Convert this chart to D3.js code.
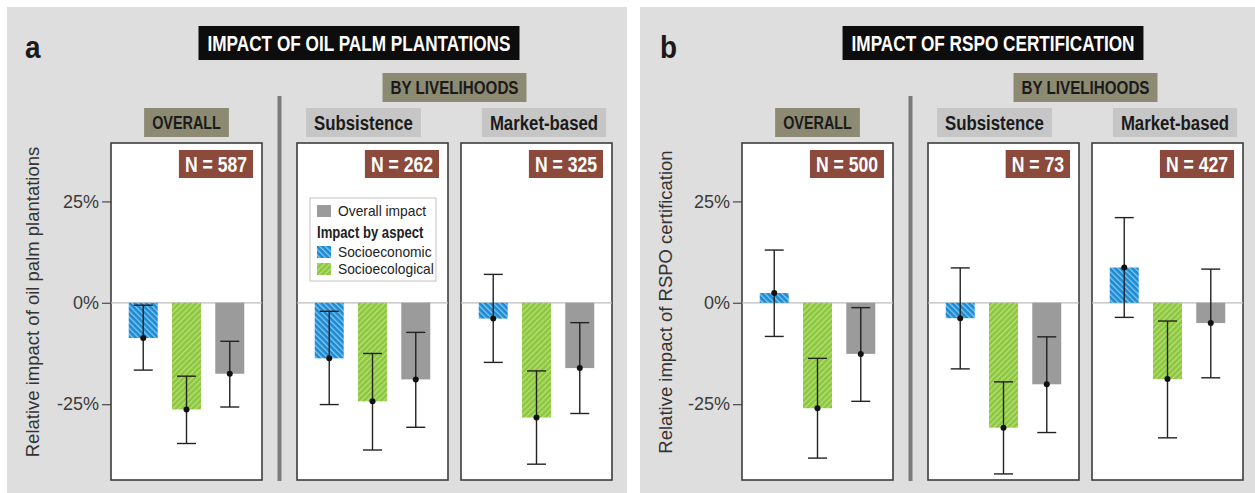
<!DOCTYPE html>
<html>
<head>
<meta charset="utf-8">
<script src="https://cdn.jsdelivr.net/npm/d3@7"></script>
<style>
  body { margin: 0; background: #fff; }
  svg { display: block; }
</style>
</head>
<body>
<div id="chart"></div>
<script>
// data (percent)
var panelLetters = ["a", "b"];
var panelTitles = ["IMPACT OF OIL PALM PLANTATIONS", "IMPACT OF RSPO CERTIFICATION"];
var yLabels = ["Relative impact of oil palm plantations", "Relative impact of RSPO certification"];
var facets = ["OVERALL", "Subsistence", "Market-based"];
var aspects = ["Socioeconomic", "Socioecological", "Overall impact"];
var yTicks = [-25, 0, 25];
var sampleSizes = [[587, 262, 325], [500, 73, 427]];

// rows = facet, columns = aspect
var estimatesA = [[-8.7, -26.3, -17.5], [-13.7, -24.3, -18.9], [-3.9, -28.3, -16.1]];
var upperA = [[-0.6, -18.1, -9.5], [-2.1, -12.5, -7.3], [7.0, -16.8, -4.9]];
var lowerA = [[-16.6, -34.7, -25.7], [-25.1, -36.3, -30.7], [-14.7, -39.8, -27.3]];

var estimatesB = [[2.4, -26.0, -12.6], [-3.8, -30.8, -20.1], [8.7, -18.8, -5.0]];
var upperB = [[13.0, -13.7, -1.2], [8.6, -19.5, -8.4], [21.0, -4.5, 8.3]];
var lowerB = [[-8.3, -38.3, -24.3], [-16.3, -42.2, -32.0], [-3.6, -33.3, -18.5]];

var estimates = [estimatesA, estimatesB],
    uppers = [upperA, upperB],
    lowers = [lowerA, lowerB];

var W = 1255, H = 493;
var SANS = "'Liberation Sans', Arial, sans-serif";
var SQUEEZE = 0.8;   // fake a condensed bold face

var svg = d3.select("#chart").append("svg")
    .attr("width", W)
    .attr("height", H);

var defs = svg.append("defs");
function hatch(id, base, stripe, angle) {
    var p = defs.append("pattern")
        .attr("id", id)
        .attr("patternUnits", "userSpaceOnUse")
        .attr("width", 4)
        .attr("height", 4)
        .attr("patternTransform", "rotate(" + angle + ")");
    p.append("rect").attr("width", 4).attr("height", 4).attr("fill", base);
    p.append("rect").attr("width", 1.3).attr("height", 4).attr("fill", stripe);
}
hatch("hatchBlue", "#1b8ad2", "#86c8f0", -45);
hatch("hatchGreen", "#8cc63e", "#b7e07a", 45);
var aspectFill = ["url(#hatchBlue)", "url(#hatchGreen)", "#9b9b9b"];

var boxTop = 143, boxBottom = 480, boxW = 151;
var facetLeft = [111, 297, 461];
var headerShift = [0, -9, 7.5];
var panelShift = [0, 631];

var y = d3.scaleLinear()
    .domain([-43.7, 39.4])
    .range([boxBottom, boxTop]);

var x = d3.scaleBand()
    .domain(aspects)
    .range([0, boxW])
    .paddingInner(0.33)
    .paddingOuter(0.41);

// condensed bold text with a filled box behind it
function tag(g, cx, cy, text, fill, color, size, padX, h, anchor) {
    anchor = anchor || "middle";
    var t = g.append("text")
        .attr("transform", "translate(" + cx + "," + cy + ") scale(" + SQUEEZE + ",1)")
        .attr("text-anchor", anchor)
        .attr("dominant-baseline", "central")
        .attr("font-family", SANS)
        .attr("font-weight", "bold")
        .attr("font-size", size)
        .attr("fill", color)
        .text(text);
    var bb = t.node().getBBox();
    var w = bb.width * SQUEEZE;
    var left = anchor == "middle" ? cx - w / 2 : (anchor == "end" ? cx - w : cx);
    g.insert("rect", function() { return t.node(); })
        .attr("x", left - padX)
        .attr("y", cy - h / 2)
        .attr("width", w + 2 * padX)
        .attr("height", h)
        .attr("fill", fill);
}

function drawPanel(p) {
    var g = svg.append("g").attr("transform", "translate(" + panelShift[p] + ",0)");
    var bgX = p == 0 ? 7 : 9;
    var bgW = p == 0 ? 620 : 615;
    g.append("rect")
        .attr("x", bgX).attr("y", 7)
        .attr("width", bgW).attr("height", H - 7)
        .attr("fill", "#dedede");

    g.append("text")
        .attr("transform", "translate(" + (p == 0 ? 25 : 29) + ",58) scale(0.9,1)")
        .attr("font-family", SANS)
        .attr("font-weight", "bold")
        .attr("font-size", 31)
        .attr("fill", "#1a1a1a")
        .text(panelLetters[p]);

    tag(g, p == 0 ? 359 : 362, 43, panelTitles[p], "#0d0d0d", "#fff", 21.5, 9, 34);
    tag(g, 454.5, 87.5, "BY LIVELIHOODS", "#8c8a72", "#1a1a1a", 19, 8, 29);

    // separator between overall and by-livelihood facets
    g.append("rect")
        .attr("x", 277.5).attr("y", 96)
        .attr("width", 4).attr("height", 385)
        .attr("fill", "#7a7a7a");

    // y axis
    var ax = g.append("g")
        .attr("transform", "translate(" + facetLeft[0] + ",0)")
        .call(d3.axisLeft(y).tickValues(yTicks).tickFormat(function(d) { return d + "%"; })
            .tickSize(9).tickPadding(3));
    ax.select(".domain").remove();
    ax.selectAll("line").attr("stroke", "#555").attr("stroke-width", 1.3);
    ax.selectAll("text")
        .attr("font-family", SANS)
        .attr("font-size", 18)
        .attr("fill", "#3a3a3a");

    g.append("text")
        .attr("transform", "translate(" + (p == 0 ? 39 : 41) + "," + 302 + ") rotate(-90)")
        .attr("text-anchor", "middle")
        .attr("font-family", SANS)
        .attr("font-size", 18.5)
        .attr("fill", "#333")
        .text(yLabels[p]);

    for (var f = 0; f < facets.length; f++) {
        var fx = facetLeft[f];
        var isOverall = f == 0;
        tag(g, fx + boxW / 2 + headerShift[f], 122.5, facets[f],
            isOverall ? "#8c8a72" : "#c6c6c6", "#1a1a1a", isOverall ? 18 : 21, 8, 29);

        var fg = g.append("g").attr("transform", "translate(" + fx + ",0)");
        fg.append("rect")
            .attr("x", 0).attr("y", boxTop)
            .attr("width", boxW).attr("height", boxBottom - boxTop)
            .attr("fill", "#fff")
            .attr("stroke", "#3d3d3d")
            .attr("stroke-width", 1.6);

        fg.append("line")
            .attr("x1", 0).attr("x2", boxW)
            .attr("y1", y(0)).attr("y2", y(0))
            .attr("stroke", "#bdbdbd")
            .attr("stroke-width", 1.2);

        var rows = aspects.map(function(a, i) {
            return { aspect: a, i: i, est: estimates[p][f][i], lo: lowers[p][f][i], hi: uppers[p][f][i] };
        });

        fg.selectAll("rect.bar").data(rows).enter().append("rect")
            .attr("class", "bar")
            .attr("x", function(d) { return x(d.aspect); })
            .attr("width", x.bandwidth())
            .attr("y", function(d) { return Math.min(y(0), y(d.est)); })
            .attr("height", function(d) { return Math.abs(y(d.est) - y(0)); })
            .attr("fill", function(d) { return aspectFill[d.i]; });

        var cap = 9.5;
        var eb = fg.selectAll("g.err").data(rows).enter().append("g")
            .attr("class", "err")
            .attr("transform", function(d) { return "translate(" + (x(d.aspect) + x.bandwidth() / 2) + ",0)"; });
        eb.append("line")
            .attr("y1", function(d) { return y(d.lo); })
            .attr("y2", function(d) { return y(d.hi); })
            .attr("stroke", "#222").attr("stroke-width", 1.4);
        eb.append("line")
            .attr("x1", -cap).attr("x2", cap)
            .attr("y1", function(d) { return y(d.hi); })
            .attr("y2", function(d) { return y(d.hi); })
            .attr("stroke", "#222").attr("stroke-width", 1.4);
        eb.append("line")
            .attr("x1", -cap).attr("x2", cap)
            .attr("y1", function(d) { return y(d.lo); })
            .attr("y2", function(d) { return y(d.lo); })
            .attr("stroke", "#222").attr("stroke-width", 1.4);
        eb.append("circle")
            .attr("cy", function(d) { return y(d.est); })
            .attr("r", 3)
            .attr("fill", "#111");

        // sample size tag, right-aligned in the box
        tag(fg, boxW - 15, 164, "N = " + sampleSizes[p][f], "#8b4a3b", "#fff", 22, 6, 28, "end");
    }

    if (p == 0) drawLegend(g, facetLeft[1] + 13, 198);
}

function drawLegend(g, lx, ly) {
    var lg = g.append("g").attr("transform", "translate(" + lx + "," + ly + ")");
    lg.append("rect")
        .attr("width", 126).attr("height", 83)
        .attr("fill", "#fff")
        .attr("stroke", "#c4c4c4").attr("stroke-width", 1);
    var items = [
        { label: aspects[2], fill: aspectFill[2], cy: 13, bold: false, sw: true },
        { label: "Impact by aspect", cy: 35, bold: true, sw: false },
        { label: aspects[0], fill: aspectFill[0], cy: 54, bold: false, sw: true },
        { label: aspects[1], fill: aspectFill[1], cy: 71, bold: false, sw: true }
    ];
    items.forEach(function(it) {
        if (it.sw) {
            lg.append("rect")
                .attr("x", 7).attr("y", it.cy - 6)
                .attr("width", 14).attr("height", 12)
                .attr("fill", it.fill);
        }
        var tx = it.sw ? 28 : 7;
        lg.append("text")
            .attr("transform", "translate(" + tx + "," + it.cy + ") scale(" + (it.bold ? 0.82 : 0.92) + ",1)")
            .attr("dominant-baseline", "central")
            .attr("font-family", SANS)
            .attr("font-weight", it.bold ? "bold" : "normal")
            .attr("font-size", it.bold ? 16 : 15)
            .attr("fill", "#222")
            .text(it.label);
    });
}

panelLetters.forEach(function(d, i) { drawPanel(i); });
</script>
</body>
</html>
